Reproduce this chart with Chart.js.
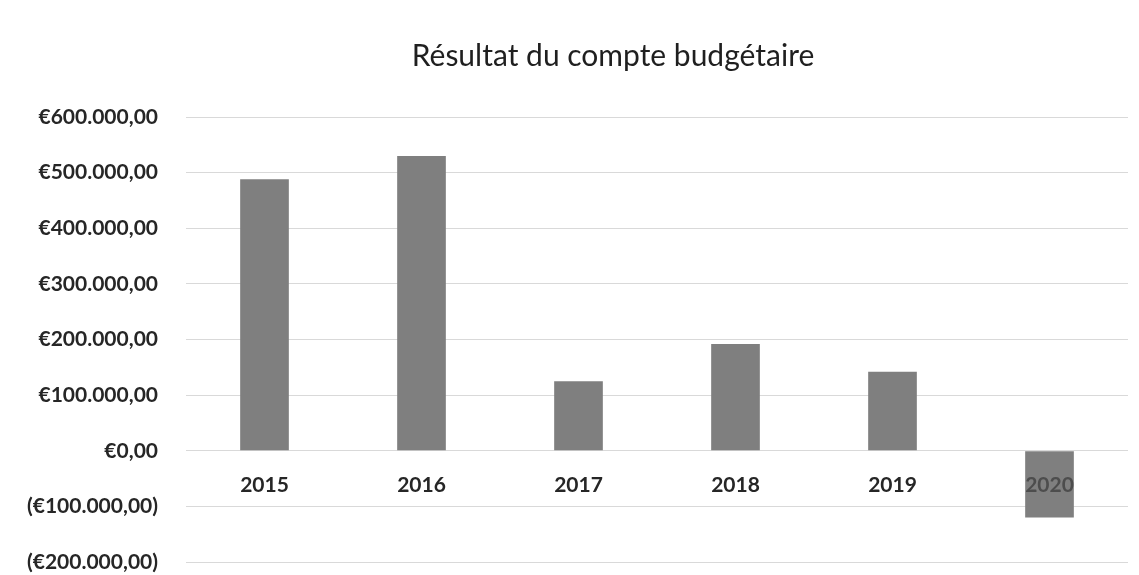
<!DOCTYPE html>
<html lang="fr">
<head>
<meta charset="utf-8">
<title>Résultat du compte budgétaire</title>
<script src="https://cdn.jsdelivr.net/npm/chart.js@4.4.1/dist/chart.umd.min.js"></script>
<style>
    body { margin: 0; background: #fff; }
    .grafico { width: 1139px; height: 575px; }
</style>
</head>
<body>
<div class="grafico"><canvas id="graficoResultado"></canvas></div>
<script>
// dados
const anos = ['2015', '2016', '2017', '2018', '2019', '2020'];
const resultados = [488000, 530000, 125000, 192000, 142000, -120000];
const eixoMin = -200000;
const eixoMax = 600000;
const eixoPasso = 100000;

function formatarEuro(valor) {
    const abs = Math.abs(valor);
    const inteiro = Math.round(abs).toString().replace(/\B(?=(\d{3})+(?!\d))/g, '.');
    const texto = '€' + inteiro + ',00';
    return valor < 0 ? '(' + texto + ')' : texto;
}

const fonte = "Lato, 'Open Sans', sans-serif";

// empurra o título um pouco pra direita, como no original
const deslocarTitulo = {
    id: 'deslocarTitulo',
    afterLayout: (chart) => {
        if (chart.titleBlock) chart.titleBlock.left += 98;
    }
};

const dados = {
    labels: anos,
    datasets: [{
        label: 'Résultat',
        data: resultados,
        backgroundColor: '#7f7f7f',
        barPercentage: 0.31,
        categoryPercentage: 1
    }]
};

const config = {
    type: 'bar',
    data: dados,
    plugins: [deslocarTitulo],
    options: {
        responsive: true,
        maintainAspectRatio: false,
        animation: false,
        layout: {
            padding: { left: 0, right: 11, top: 0, bottom: 13 }
        },
        plugins: {
            legend: { display: false },
            tooltip: { enabled: false },
            title: {
                display: true,
                text: 'Résultat du compte budgétaire',
                color: '#1f1f1f',
                font: { family: fonte, size: 30, weight: 'normal' },
                padding: { top: 38, bottom: 43 }
            }
        },
        scales: {
            x: {
                position: { y: 0 },
                // o eixo fica no zero, não ocupa espaço embaixo
                afterFit: (escala) => { escala.height = 0; },
                grid: { display: false },
                border: { display: false },
                ticks: {
                    z: 1,
                    padding: 14,
                    color: (ctx) => ctx.index === 5 ? '#4d4d4d' : '#262626',
                    font: { family: fonte, size: 21, weight: 'bold' }
                }
            },
            y: {
                min: eixoMin,
                max: eixoMax,
                afterFit: (escala) => {
                    escala.width = 186;
                    escala.paddingTop = 0;
                    escala.paddingBottom = 0;
                },
                grid: { color: '#d9d9d9', drawTicks: false },
                border: { display: false },
                ticks: {
                    stepSize: eixoPasso,
                    padding: 28,
                    color: '#262626',
                    font: { family: fonte, size: 21, weight: 'bold' },
                    callback: (valor) => formatarEuro(valor)
                }
            }
        }
    }
};

const meuGrafico = new Chart(document.getElementById('graficoResultado'), config);
</script>
</body>
</html>
